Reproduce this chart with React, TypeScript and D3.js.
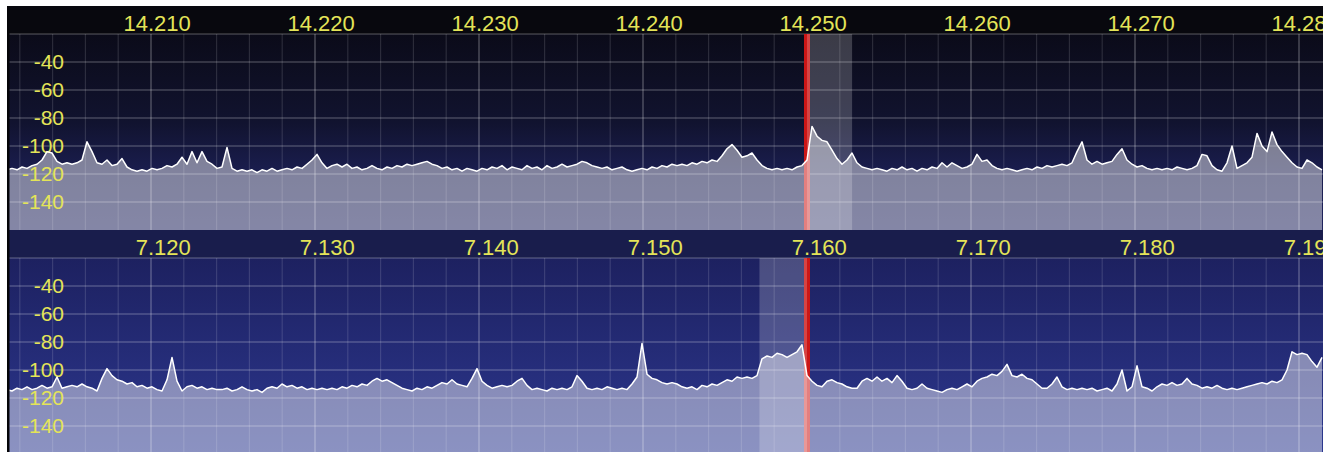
import React from "react";
import * as d3 from "d3";

// ---------- DATA ----------
// Spectrum traces (dBm), one value per bin, bins evenly spaced in frequency
const TOP_START_MHZ = 14.2012195;
const BOTTOM_START_MHZ = 7.1112195;
const BIN_MHZ = 0.00030488;

const TOP_DB = [
  -117, -116, -117, -115, -116, -114, -113, -110, -104, -105, -111, -113, -112, -113, -112, -110,
  -97, -104, -112, -113, -110, -114, -113, -109, -115, -117, -118, -117, -118, -116, -117, -116,
  -114, -115, -113, -108, -113, -104, -112, -104, -111, -113, -116, -115, -101, -116, -118, -117,
  -118, -117, -119, -117, -118, -116, -118, -117, -116, -117, -115, -116, -113, -110, -106, -112,
  -116, -114, -113, -115, -113, -116, -115, -117, -116, -114, -116, -117, -115, -116, -114, -115,
  -113, -114, -113, -112, -111, -113, -114, -116, -115, -117, -116, -118, -116, -117, -118, -116,
  -117, -115, -116, -114, -117, -115, -116, -117, -114, -116, -115, -117, -114, -116, -115, -113,
  -115, -114, -113, -111, -112, -114, -115, -116, -115, -117, -116, -115, -117, -118, -117, -116,
  -117, -115, -116, -114, -115, -113, -114, -113, -114, -112, -113, -111, -112, -110, -111, -107,
  -102, -99, -103, -108, -107, -105, -110, -114, -116, -117, -116, -117, -116, -117, -115, -114,
  -110, -86, -93, -96, -97, -103, -109, -113, -110, -105, -112, -115, -116, -117, -116, -117,
  -118, -116, -117, -115, -117, -116, -118, -116, -117, -115, -116, -112, -115, -112, -114, -116,
  -115, -113, -106, -111, -110, -114, -116, -117, -116, -117, -118, -117, -116, -117, -115, -116,
  -114, -115, -114, -113, -114, -112, -104, -97, -110, -113, -111, -113, -112, -111, -106, -102,
  -110, -113, -115, -114, -116, -117, -116, -117, -116, -117, -115, -116, -117, -116, -114, -106,
  -107, -114, -117, -118, -112, -100, -116, -114, -112, -108, -91, -100, -104, -90, -99, -104,
  -108, -112, -115, -116, -110, -112, -115, -117,
];

const BOTTOM_DB = [
  -114, -115, -113, -114, -112, -114, -113, -111, -113, -112, -105, -113, -112, -111, -112, -110,
  -112, -113, -115, -106, -99, -104, -107, -108, -110, -109, -112, -111, -113, -112, -114, -115,
  -107, -91, -108, -115, -112, -111, -113, -112, -114, -113, -114, -114, -113, -115, -114, -112,
  -114, -115, -114, -116, -113, -112, -113, -110, -112, -111, -113, -112, -114, -113, -114, -113,
  -114, -113, -114, -112, -113, -111, -112, -110, -111, -108, -106, -108, -107, -109, -111, -113,
  -114, -115, -113, -114, -112, -113, -111, -109, -110, -107, -110, -111, -112, -106, -99, -108,
  -111, -113, -112, -111, -112, -111, -108, -106, -111, -114, -113, -114, -115, -113, -114, -113,
  -114, -112, -104, -108, -113, -114, -113, -114, -112, -113, -114, -113, -114, -110, -105, -81,
  -103, -106, -107, -109, -110, -109, -110, -112, -113, -112, -114, -111, -112, -110, -111, -109,
  -107, -108, -105, -106, -105, -106, -104, -92, -90, -91, -88, -89, -91, -89, -87, -82,
  -104, -108, -111, -112, -108, -107, -109, -110, -112, -113, -113, -108, -106, -108, -105, -108,
  -106, -109, -104, -108, -113, -114, -113, -110, -113, -114, -115, -116, -114, -113, -114, -112,
  -110, -112, -108, -106, -105, -103, -104, -101, -96, -104, -105, -103, -106, -107, -110, -113,
  -113, -110, -105, -112, -114, -113, -114, -113, -114, -113, -115, -114, -113, -115, -110, -100,
  -115, -112, -97, -112, -113, -115, -112, -110, -111, -109, -111, -110, -106, -110, -111, -113,
  -112, -113, -111, -113, -114, -113, -114, -113, -112, -111, -110, -109, -110, -108, -109, -107,
  -100, -87, -89, -88, -89, -94, -98, -91,
];

const TOP_MAJOR_TICKS = [14.21, 14.22, 14.23, 14.24, 14.25, 14.26, 14.27, 14.28];
const BOTTOM_MAJOR_TICKS = [7.12, 7.13, 7.14, 7.15, 7.16, 7.17, 7.18, 7.19];
const DB_TICKS = [-40, -60, -80, -100, -120, -140];
const DB_GRID = [-20, -40, -60, -80, -100, -120, -140];

const TOP_VFO = 14.25;
const TOP_FILTER = [14.25, 14.25275];
const BOTTOM_VFO = 7.16;
const BOTTOM_FILTER = [7.1571, 7.16];

// ---------- LAYOUT ----------
const W = 1330;
const H = 452;
const LEFT = 7;
const RIGHT = 1323;
const PX_PER_MHZ = 16400;

type PanelProps = {
  id: string;
  top: number;
  bottom: number;
  plotTop: number;
  start: number;
  data: number[];
  majors: number[];
  vfo: number;
  filter: number[];
  headerColor: string;
  bgStops: [number, string][];
  fillOpacity: number;
};

function Panel(p: PanelProps) {
  const f0 = p.start;
  const f1 = f0 + (RIGHT - LEFT) / PX_PER_MHZ;
  const x = d3.scaleLinear().domain([f0, f1]).range([LEFT, RIGHT]);
  const y = d3
    .scaleLinear()
    .domain([-160, -20])
    .range([p.plotTop + 196, p.plotTop]);

  const pts = p.data.map((v, i) => ({ f: f0 + i * BIN_MHZ, v }));
  const area = d3
    .area<{ f: number; v: number }>()
    .x((d) => x(d.f))
    .y0(p.bottom + 2)
    .y1((d) => y(d.v))
    .curve(d3.curveLinear);
  const line = d3
    .line<{ f: number; v: number }>()
    .x((d) => x(d.f))
    .y((d) => y(d.v))
    .curve(d3.curveLinear);

  const minorStep = 0.002;
  const minors: number[] = [];
  const firstMinor = Math.ceil(f0 / minorStep - 1e-6);
  for (let k = firstMinor; k * minorStep <= f1; k++) {
    const f = k * minorStep;
    const isMajor = p.majors.some((m) => Math.abs(m - f) < 1e-6);
    if (!isMajor) minors.push(f);
  }

  const clipId = `clip-${p.id}`;
  const bgId = `bg-${p.id}`;
  const plotH = p.bottom - p.plotTop;
  const labelFont = "'Liberation Sans', Arial, sans-serif";

  return (
    <g clipPath={`url(#${clipId})`}>
      <defs>
        <clipPath id={clipId}>
          <rect x={LEFT} y={p.top} width={RIGHT - LEFT} height={p.bottom - p.top} />
        </clipPath>
        <linearGradient id={bgId} x1="0" y1="0" x2="0" y2="1">
          {p.bgStops.map(([o, c], i) => (
            <stop key={i} offset={o} stopColor={c} />
          ))}
        </linearGradient>
      </defs>
      {/* header */}
      <rect x={LEFT} y={p.top} width={RIGHT - LEFT} height={p.plotTop - p.top} fill={p.headerColor} />
      {/* plot background */}
      <rect x={LEFT} y={p.plotTop} width={RIGHT - LEFT} height={plotH} fill={`url(#${bgId})`} />
      {/* grid */}
      {DB_GRID.map((v) => (
        <line
          key={`h${v}`}
          x1={LEFT}
          x2={RIGHT}
          y1={y(v)}
          y2={y(v)}
          stroke="#ffffff"
          strokeOpacity={0.22}
          strokeWidth={1.6}
        />
      ))}
      {minors.map((f) => (
        <line
          key={`m${f}`}
          x1={x(f)}
          x2={x(f)}
          y1={p.plotTop}
          y2={p.bottom}
          stroke="#ffffff"
          strokeOpacity={0.13}
          strokeWidth={1.2}
        />
      ))}
      {p.majors.map((f) => (
        <line
          key={`M${f}`}
          x1={x(f)}
          x2={x(f)}
          y1={p.plotTop}
          y2={p.bottom}
          stroke="#ffffff"
          strokeOpacity={0.28}
          strokeWidth={1.4}
        />
      ))}
      {/* VFO marker */}
      <rect x={x(p.vfo) - 3} y={p.plotTop} width={6} height={plotH} fill="#cc1616" />
      {/* spectrum fill */}
      <path d={area(pts) || ""} fill="#ffffff" fillOpacity={p.fillOpacity} />
      {/* filter passband */}
      <rect
        x={x(p.filter[0])}
        y={p.plotTop}
        width={x(p.filter[1]) - x(p.filter[0])}
        height={plotH}
        fill="#ffffff"
        fillOpacity={0.2}
      />
      {/* dB labels */}
      {DB_TICKS.map((v) => (
        <text
          key={`l${v}`}
          x={64}
          y={y(v) + 7}
          textAnchor="end"
          fill="#e4e458"
          fontSize={21}
          fontFamily={labelFont}
        >
          {v}
        </text>
      ))}
      {/* trace */}
      <path d={line(pts) || ""} fill="none" stroke="#ffffff" strokeWidth={1.5} strokeLinejoin="round" />
      {/* frequency labels, decimal point on the tick */}
      {p.majors.map((f) => {
        const s = f.toFixed(3);
        const [a, b] = s.split(".");
        const xx = x(f);
        return (
          <g key={`t${f}`} fill="#e4e458" fontSize={22} fontFamily={labelFont}>
            <text x={xx + 3} y={p.top + 25} textAnchor="end">
              {a + "."}
            </text>
            <text x={xx + 3} y={p.top + 25} textAnchor="start">
              {b}
            </text>
          </g>
        );
      })}
      {/* left border */}
      <rect x={LEFT} y={p.top} width={2.5} height={p.bottom - p.top} fill="#050508" />
    </g>
  );
}

export default function App() {
  return (
    <svg
      width={W}
      height={H}
      viewBox={`0 0 ${W} ${H}`}
      style={{ position: "absolute", left: 0, top: 0, display: "block" }}
    >
      <rect x={0} y={0} width={W} height={H} fill="#ffffff" />
      <Panel
        id="top"
        top={6}
        bottom={230}
        plotTop={34}
        start={TOP_START_MHZ}
        data={TOP_DB}
        majors={TOP_MAJOR_TICKS}
        vfo={TOP_VFO}
        filter={TOP_FILTER}
        headerColor="#08080e"
        bgStops={[
          [0, "#0b0b19"],
          [0.45, "#11132f"],
          [0.7, "#1a1d4e"],
          [1, "#20245e"],
        ]}
        fillOpacity={0.45}
      />
      <Panel
        id="bottom"
        top={230}
        bottom={452}
        plotTop={258}
        start={BOTTOM_START_MHZ}
        data={BOTTOM_DB}
        majors={BOTTOM_MAJOR_TICKS}
        vfo={BOTTOM_VFO}
        filter={BOTTOM_FILTER}
        headerColor="#191d4c"
        bgStops={[
          [0, "#1d2160"],
          [0.6, "#262e7c"],
          [1, "#2c3990"],
        ]}
        fillOpacity={0.45}
      />
    </svg>
  );
}
